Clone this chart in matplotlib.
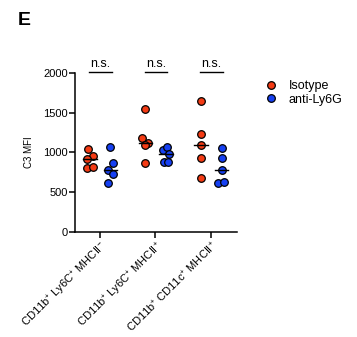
import matplotlib
matplotlib.use("Agg")
import matplotlib.pyplot as plt
from matplotlib.lines import Line2D
import numpy as np

plt.rcParams['font.family'] = ['Liberation Sans', 'DejaVu Sans']
plt.rcParams['mathtext.fontset'] = 'custom'
plt.rcParams['mathtext.rm'] = 'Liberation Sans'

categories = [r"CD11b$^{+}$ Ly6C$^{+}$ MHCII$^{-}$",
              r"CD11b$^{+}$ Ly6C$^{+}$ MHCII$^{+}$",
              r"CD11b$^{+}$ CD11c$^{+}$ MHCII$^{+}$"]
series_names = ["Isotype", "anti-Ly6G"]
isotype = [
    [1040, 960, 918, 802, 818],
    [1545, 1186, 1115, 1094, 865],
    [1645, 1232, 1094, 927, 684],
]
anti_ly6g = [
    [1073, 865, 781, 727, 622],
    [1031, 1065, 977, 877, 877],
    [1060, 927, 781, 622, 634],
]
sig_labels = ["n.s.", "n.s.", "n.s."]
yticks = [0, 500, 1000, 1500, 2000]

# horizontal scatter offsets of points (style, in category units)
jit_iso = [[-0.04, 0.06, -0.05, -0.06, 0.06],
           [0.0, -0.06, 0.04, 0.0, 0.0],
           [0.0, 0.0, 0.0, 0.0, 0.0]]
jit_anti = [[0.0, 0.05, -0.05, 0.05, -0.05],
            [-0.06, 0.01, 0.06, -0.03, 0.03],
            [0.0, 0.0, 0.0, -0.06, 0.05]]

red = '#F43B14'
blue = '#1640F2'

fig = plt.figure(figsize=(3.57, 3.37), dpi=100)
ax = fig.add_axes([0.210, 0.311, 0.454, 0.473])

off = [-0.18, 0.19]
for i in range(len(categories)):
    for s, (vals, jit, col) in enumerate([(isotype, jit_iso, red), (anti_ly6g, jit_anti, blue)]):
        xs = np.array(jit[i]) + i + off[s]
        ax.scatter(xs, vals[i], s=30, color=col, edgecolor='black', linewidth=0.9, zorder=3, clip_on=False)
        med = np.median(vals[i])
        ax.plot([i + off[s] - 0.12, i + off[s] + 0.12], [med, med], color='black', lw=1.0, zorder=4)
    # significance bar
    ax.plot([i + off[0] - 0.01, i + off[1] + 0.02], [2010, 2010], color='black', lw=1.0, clip_on=False)
    ax.text(i + (off[0] + off[1]) / 2, 2035, sig_labels[i], ha='center', va='bottom', fontsize=9)

ax.set_xlim(-0.45, 2.47)
ax.set_ylim(0, 2000)
ax.set_yticks(yticks)
ax.set_yticklabels([str(t) for t in yticks], fontsize=8)
ax.set_xticks(range(len(categories)))
ax.set_xticklabels(categories, rotation=45, ha='right', rotation_mode='anchor', fontsize=8)
ax.set_ylabel("C3 MFI", fontsize=7)
ax.yaxis.set_label_coords(-0.25, 0.5)
for sp in ['top', 'right']:
    ax.spines[sp].set_visible(False)
for sp in ['left', 'bottom']:
    ax.spines[sp].set_linewidth(1.1)
ax.tick_params(axis='both', length=4, width=1.1, pad=1)

handles = [Line2D([], [], marker='o', ls='', markerfacecolor=red, markeredgecolor='black', markersize=5.5, markeredgewidth=0.9),
           Line2D([], [], marker='o', ls='', markerfacecolor=blue, markeredgecolor='black', markersize=5.5, markeredgewidth=0.9)]
fig.legend(handles, series_names, loc='upper left', bbox_to_anchor=(0.71, 0.795), frameon=False,
           fontsize=9, handletextpad=0.9, labelspacing=0.1, handlelength=1.0)

fig.text(0.05, 0.94, "E", fontsize=14, fontweight='bold', ha='left', va='center')

fig.savefig("out.png", dpi=100)
